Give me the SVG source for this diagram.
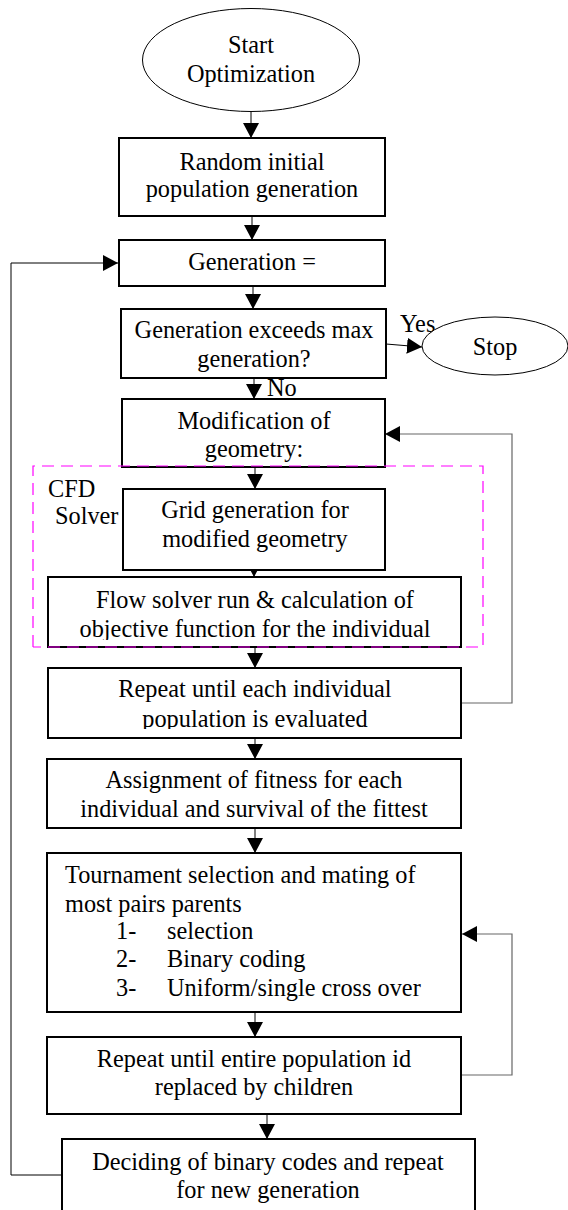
<svg xmlns="http://www.w3.org/2000/svg" width="568" height="1210" viewBox="0 0 568 1210">
<style>
.box{fill:#fff;stroke:#000;stroke-width:2}
.ell{fill:#fff;stroke:#000;stroke-width:1}
.t{font-family:"Liberation Serif","Times New Roman",serif;font-size:24.3px;fill:#000}
.c{text-anchor:middle}
.con{fill:none;stroke:#000;stroke-width:1}
.loop{fill:none;stroke:#666;stroke-width:1.2}
</style>
<defs>
<marker id="ah" markerUnits="userSpaceOnUse" markerWidth="16" markerHeight="16" refX="15" refY="8" orient="auto" viewBox="0 0 16 16">
<path d="M0,0 L15,8 L0,16 z" fill="#000"/>
</marker>
<clipPath id="clipFlow"><rect x="48" y="578" width="414" height="62"/></clipPath>
<clipPath id="clipRepeat"><rect x="48" y="668" width="414" height="61"/></clipPath>
</defs>
<rect width="568" height="1210" fill="#fff"/>
<g id="connectors">
<line class="con" x1="251" y1="111" x2="251" y2="138" marker-end="url(#ah)"/>
<line class="con" x1="252" y1="216" x2="252" y2="240" marker-end="url(#ah)"/>
<line class="con" x1="253" y1="286" x2="253" y2="309" marker-end="url(#ah)"/>
<line class="con" x1="386" y1="344" x2="422" y2="347" marker-end="url(#ah)"/>
<line class="con" x1="254" y1="378" x2="254" y2="399" marker-end="url(#ah)"/>
<line class="con" x1="255" y1="467" x2="255" y2="489" marker-end="url(#ah)"/>
<line class="con" x1="254" y1="560" x2="254" y2="577" marker-end="url(#ah)"/>
<line class="con" x1="255" y1="647" x2="255" y2="668" marker-end="url(#ah)"/>
<line class="con" x1="255" y1="738" x2="255" y2="759" marker-end="url(#ah)"/>
<line class="con" x1="255" y1="828" x2="255" y2="853" marker-end="url(#ah)"/>
<line class="con" x1="255" y1="1012" x2="255" y2="1037" marker-end="url(#ah)"/>
<line class="con" x1="267" y1="1114" x2="267" y2="1139" marker-end="url(#ah)"/>
<polyline class="loop" points="461,703 512,703 512,434 385,434" marker-end="url(#ah)"/>
<polyline class="loop" points="461,1075 512,1075 512,934 462,934" marker-end="url(#ah)"/>
<polyline class="con" points="62,1175 11,1175 11,263 118,263" marker-end="url(#ah)"/>
<text class="t" x="400" y="332">Yes</text>
<text class="t" x="267" y="396">No</text>
</g>
<g id="start">
<ellipse class="ell" cx="251" cy="60" rx="108.5" ry="51.5"/>
<text class="t c" x="251" y="53">Start</text>
<text class="t c" x="251" y="82">Optimization</text>
</g>
<g id="random-init">
<rect class="box" x="119" y="138" width="266" height="78"/>
<text class="t c" x="252" y="170">Random initial</text>
<text class="t c" x="252" y="197">population generation</text>
</g>
<g id="generation">
<rect class="box" x="119" y="240" width="266" height="46"/>
<text class="t c" x="252" y="270">Generation =</text>
</g>
<g id="exceeds">
<rect class="box" x="121" y="309" width="265" height="69"/>
<text class="t c" x="254" y="338">Generation exceeds max</text>
<text class="t c" x="254" y="367">generation?</text>
</g>
<g id="stop">
<ellipse class="ell" cx="495" cy="346" rx="73" ry="29"/>
<text class="t c" x="495" y="355">Stop</text>
</g>
<g id="modification">
<rect class="box" x="122" y="399" width="263" height="68"/>
<text class="t c" x="254" y="429">Modification of</text>
<text class="t c" x="254" y="457">geometry:</text>
</g>
<g id="grid">
<rect class="box" x="123" y="489" width="262" height="81"/>
<text class="t c" x="255" y="518">Grid generation for</text>
<text class="t c" x="255" y="547">modified geometry</text>
</g>
<g id="flow-solver">
<rect class="box" x="48" y="577" width="413" height="70"/>
<text class="t c" x="255" y="608">Flow solver run &amp; calculation of</text>
<text class="t c" x="255" y="637" clip-path="url(#clipFlow)">objective function for the individual</text>
</g>
<g id="repeat-each">
<rect class="box" x="48" y="668" width="413" height="70"/>
<text class="t c" x="255" y="697">Repeat until each individual</text>
<text class="t c" x="255" y="727" clip-path="url(#clipRepeat)">population is evaluated</text>
</g>
<g id="fitness">
<rect class="box" x="47" y="759" width="414" height="69"/>
<text class="t c" x="254" y="788">Assignment of fitness for each</text>
<text class="t c" x="254" y="817">individual and survival of the fittest</text>
</g>
<g id="tournament">
<rect class="box" x="47" y="853" width="414" height="159"/>
<text class="t" x="65" y="883">Tournament selection and mating of</text>
<text class="t" x="65" y="912">most pairs parents</text>
<text class="t" x="116" y="939">1-</text>
<text class="t" x="167" y="939">selection</text>
<text class="t" x="116" y="967">2-</text>
<text class="t" x="167" y="967">Binary coding</text>
<text class="t" x="116" y="996">3-</text>
<text class="t" x="167" y="996">Uniform/single cross over</text>
</g>
<g id="repeat-entire">
<rect class="box" x="47" y="1037" width="414" height="77"/>
<text class="t c" x="254" y="1067">Repeat until entire population id</text>
<text class="t c" x="254" y="1095">replaced by children</text>
</g>
<g id="deciding">
<rect class="box" x="62" y="1139" width="413" height="80"/>
<text class="t c" x="268" y="1170">Deciding of binary codes and repeat</text>
<text class="t c" x="268" y="1198">for new generation</text>
</g>
<g id="cfd-group">
<path d="M33,647 L33,466 L483,466 L483,647 L33,647" fill="none" stroke="#f0f" stroke-width="1.2" stroke-dasharray="12,7"/>
<text class="t" x="48" y="497">CFD</text>
<text class="t" x="55" y="524">Solver</text>
</g>
</svg>
